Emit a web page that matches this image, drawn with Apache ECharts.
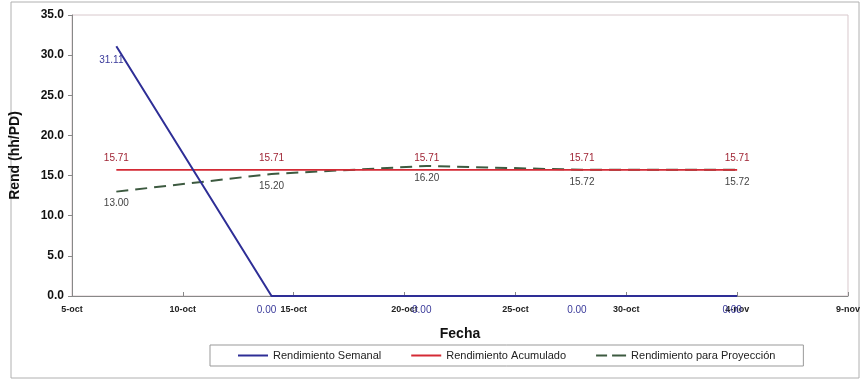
<!DOCTYPE html>
<html><head><meta charset="utf-8">
<script src="https://cdn.jsdelivr.net/npm/echarts@6/dist/echarts.min.js"></script>
<style>html,body{margin:0;padding:0;background:#fff}#c{width:863px;height:381px}</style>
</head><body><div id="c"></div>
<script>
// Data
const fechas = ['7-oct', '14-oct', '21-oct', '28-oct', '4-nov'];
const semanal = [31.11, 0.00, 0.00, 0.00, 0.00];
const acumulado = [15.71, 15.71, 15.71, 15.71, 15.71];
const proyeccion = [13.00, 15.20, 16.20, 15.72, 15.72];
const xTicks = ['5-oct', '10-oct', '15-oct', '20-oct', '25-oct', '30-oct', '4-nov', '9-nov'];
const yTicks = [0, 5, 10, 15, 20, 25, 30, 35];

const meses = {oct: 9, nov: 10};
function dayOffset(s) {
  const [d, m] = s.split('-');
  const base = Date.UTC(2009, 9, 5);
  return Math.round((Date.UTC(2009, meses[m], +d) - base) / 86400000);
}
const tickOffsets = xTicks.map(dayOffset);
function pairs(vals) { return fechas.map((f, i) => [dayOffset(f), vals[i]]); }

const solidIcon = 'path://M0,0h30v2h-30z';
const dashIcon = 'path://M0,0h11v2h-11z M16,0h14v2h-14z';

const chart = echarts.init(document.getElementById('c'));
const font = 'Liberation Sans Narrow, Liberation Sans, Arial, sans-serif';
chart.setOption({
  animation: false,
  backgroundColor: '#fff',
  textStyle: {fontFamily: font},
  graphic: [{
    type: 'rect', shape: {x: 11, y: 2, width: 848, height: 376},
    style: {fill: 'none', stroke: '#b0b0b0', lineWidth: 1}, silent: true, z: -1
  }],
  grid: {left: 72, right: 13, top: 15, bottom: 85, show: true, borderColor: '#d8c8cc', borderWidth: 1},
  xAxis: {
    type: 'value', min: tickOffsets[0], max: tickOffsets[tickOffsets.length - 1], interval: 5,
    name: 'Fecha', nameLocation: 'middle', nameGap: 31,
    nameTextStyle: {fontWeight: 'bold', fontSize: 14, color: '#111', fontFamily: 'Liberation Sans, Arial, sans-serif'},
    axisLine: {lineStyle: {color: '#888'}},
    axisTick: {inside: true, length: 4, lineStyle: {color: '#888'}},
    splitLine: {show: false},
    axisLabel: {
      fontSize: 9, fontWeight: 'bold', color: '#222', margin: 9,
      formatter: v => { const i = tickOffsets.indexOf(v); return i >= 0 ? xTicks[i] : ''; }
    }
  },
  yAxis: {
    type: 'value', min: yTicks[0], max: yTicks[yTicks.length - 1], interval: 5,
    name: 'Rend (hh/PD)', nameLocation: 'middle', nameGap: 50, nameRotate: 90,
    nameTextStyle: {fontWeight: 'bold', fontSize: 14, color: '#111', fontFamily: 'Liberation Sans, Arial, sans-serif'},
    axisLine: {show: true, lineStyle: {color: '#888'}},
    axisTick: {show: true, length: 4, lineStyle: {color: '#888'}},
    splitLine: {show: false},
    axisLabel: {fontSize: 12, fontWeight: 'bold', color: '#111', margin: 8,
      fontFamily: 'Liberation Sans, Arial, sans-serif', formatter: v => v.toFixed(1)}
  },
  legend: {
    bottom: 15, left: 210,
    borderColor: '#999', borderWidth: 1, padding: [5, 28], itemGap: 30,
    itemWidth: 30, itemHeight: 2,
    textStyle: {fontSize: 11, color: '#222', fontFamily: font},
    data: [
      {name: 'Rendimiento Semanal', icon: solidIcon},
      {name: 'Rendimiento Acumulado', icon: solidIcon},
      {name: 'Rendimiento para Proyección', icon: dashIcon}
    ]
  },
  series: [
    {
      name: 'Rendimiento Semanal', type: 'line', data: pairs(semanal),
      symbol: 'circle', symbolSize: 0.1, showSymbol: true,
      lineStyle: {color: '#2e2e96', width: 2}, itemStyle: {color: '#2e2e96'},
      label: {show: true, position: 'bottom', distance: 9, offset: [-5, 0], fontSize: 10,
        color: '#3a3a9a', formatter: p => p.value[1].toFixed(2)},
      z: 3
    },
    {
      name: 'Rendimiento Acumulado', type: 'line', data: pairs(acumulado),
      symbol: 'circle', symbolSize: 0.1, showSymbol: true,
      lineStyle: {color: '#d42a35', width: 1.7}, itemStyle: {color: '#d42a35'},
      label: {show: true, position: 'top', distance: 7, fontSize: 10,
        color: '#a02535', formatter: p => p.value[1].toFixed(2)},
      z: 2
    },
    {
      name: 'Rendimiento para Proyección', type: 'line', data: pairs(proyeccion),
      symbol: 'circle', symbolSize: 0.1, showSymbol: true,
      lineStyle: {color: '#3d5a40', width: 2, type: [12, 7]}, itemStyle: {color: '#3d5a40'},
      label: {show: true, position: 'bottom', distance: 7, fontSize: 10,
        color: '#444', formatter: p => p.value[1].toFixed(2)},
      z: 1
    }
  ]
});
</script></body></html>
